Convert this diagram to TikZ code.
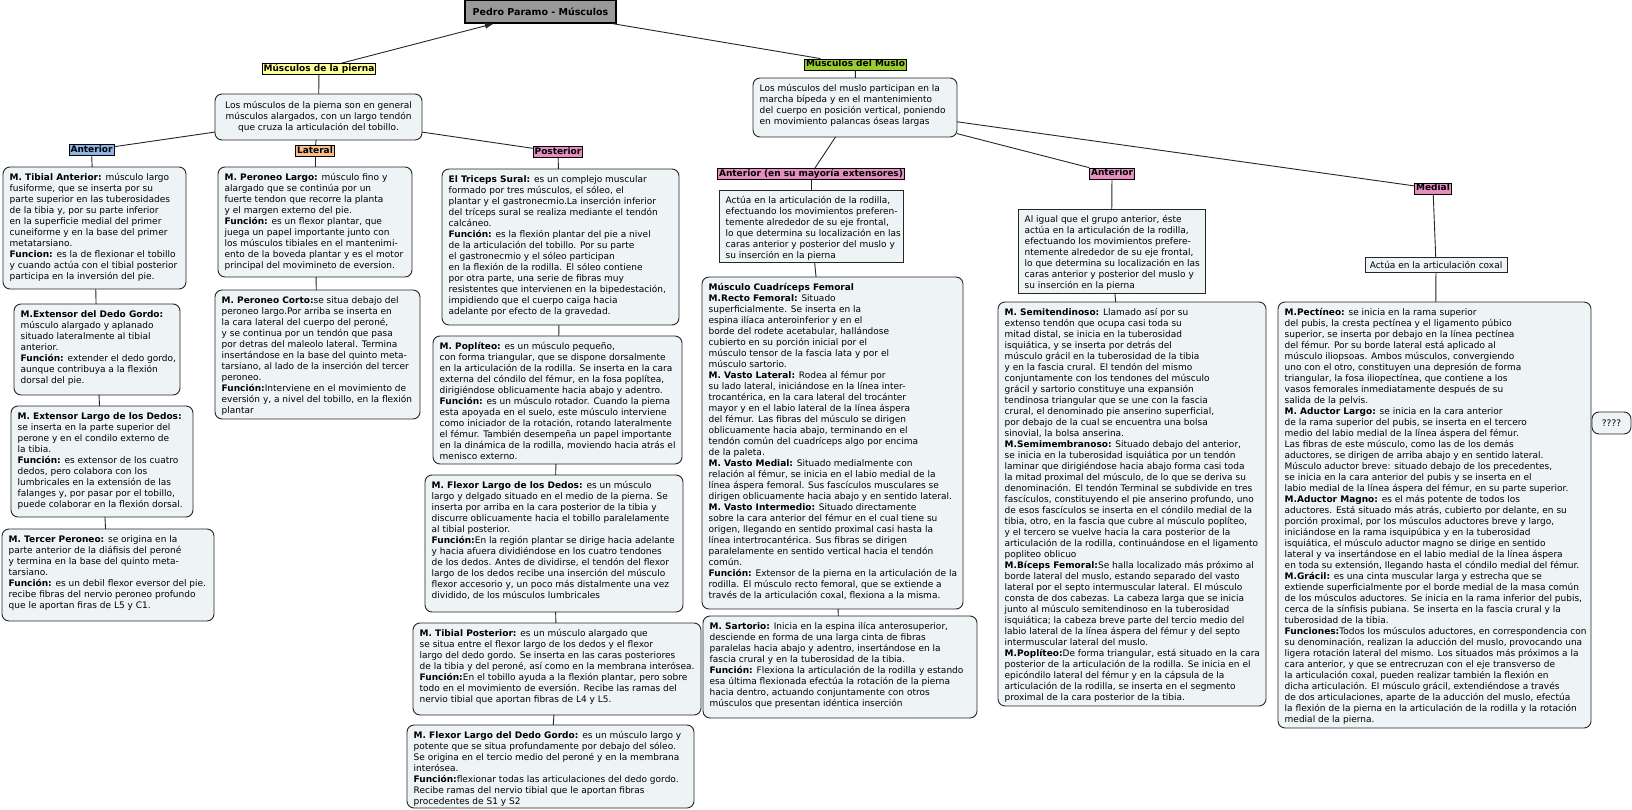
\documentclass[tikz,border=0pt]{standalone}
\usepackage{fontspec}
\setmainfont{DejaVu Sans}
\usetikzlibrary{arrows.meta}
\definecolor{boxfill}{HTML}{EEF3F5}
\definecolor{yel}{HTML}{FFFF99}
\definecolor{grn}{HTML}{99CC33}
\definecolor{blu}{HTML}{8DB4E2}
\definecolor{ora}{HTML}{F9BF8F}
\definecolor{pnk}{HTML}{E58FC0}
\definecolor{ttl}{HTML}{999999}
\tikzset{
  bx/.style={draw=black!85, line width=0.9pt, fill=boxfill, rounded corners=7pt, inner sep=0pt, outer sep=0pt, anchor=north west},
  sq/.style={draw=black!85, line width=0.9pt, fill=boxfill, inner sep=0pt, outer sep=0pt, anchor=north west},
  txt/.style={anchor=north west, inner sep=0pt, align=left, font=\fontsize{9}{11}\selectfont},
  lbl/.style={draw=black, line width=0.8pt, font=\fontsize{9}{10}\selectfont\bfseries, inner xsep=1.5pt, inner ysep=1pt, text height=7pt, text depth=2pt},
  conn/.style={draw=black!85, line width=0.9pt}
}
\newcommand\mybox[7]{%
  \node[#1, minimum width={#5-#3}, minimum height={#6-#4}] (#2) at (#3,#4) {};
  \node[txt] (#2t) at ([xshift=6.5pt,yshift=-6pt]#2.north west) {#7};}
\begin{document}
\begin{tikzpicture}[x=1pt,y=-1pt]
\fill[white] (0,0) rectangle (1632,810);
\useasboundingbox (0,0) rectangle (1632,810);

% title and main labels
\node[draw=black, line width=1.2pt, fill=ttl, minimum width=151, minimum height=23, inner sep=0pt, font=\fontsize{9.5}{11}\selectfont\bfseries] (title) at (540.5,11.5) {Pedro Paramo - Músculos};
\node[lbl, fill=yel] (legl) at (319,69) {Músculos de la pierna};
\node[lbl, fill=grn] (musl) at (855.5,64.5) {Musculos del Muslo};

% leg intro
\node[bx, minimum width=207, minimum height=46] (legi) at (215,94) {};
\node[inner sep=0pt, align=center, font=\fontsize{9}{11}\selectfont] (legit) at (legi.center) {Los músculos de la pierna son en general\\músculos alargados, con un largo tendón\\que cruza la articulación del tobillo.};

% muslo intro
\mybox{bx}{musi}{753}{78}{957}{137}{Los músculos del muslo participan en la\\marcha bípeda y en el mantenimiento\\del cuerpo en posición vertical, poniendo\\en movimiento palancas óseas largas}

% sub labels
\node[lbl, fill=blu] (antL) at (91.5,150) {Anterior};
\node[lbl, fill=ora] (latL) at (315,151) {Lateral};
\node[lbl, fill=pnk] (postL) at (558,152) {Posterior};
\node[lbl, fill=pnk] (antEL) at (811,174) {Anterior (en su mayoría extensores)};
\node[lbl, fill=pnk] (antPL) at (1112,173.5) {Anterior};
\node[lbl, fill=pnk] (medL) at (1433,188.5) {Medial};

% anterior leg column
\mybox{bx}{tibA}{3}{167}{186}{289}{\textbf{M. Tibial Anterior:} músculo largo\\fusiforme, que se inserta por su\\parte superior en las tuberosidades\\de la tibia y, por su parte inferior\\en la superficie medial del primer\\cuneiforme y en la base del primer\\metatarsiano.\\\textbf{Funcion:} es la de flexionar el tobillo\\y cuando actúa con el tibial posterior\\participa en la inversión del pie.}
\mybox{bx}{extDG}{14}{304}{180}{395}{\textbf{M.Extensor del Dedo Gordo:}\\músculo alargado y aplanado\\situado lateralmente al tibial\\anterior.\\\textbf{Función:} extender el dedo gordo,\\aunque contribuya a la flexión\\dorsal del pie.}
\mybox{bx}{extLD}{11}{406}{193}{517}{\textbf{M. Extensor Largo de los Dedos:}\\se inserta en la parte superior del\\perone y en el condilo externo de\\la tibia.\\\textbf{Función:} es extensor de los cuatro\\dedos, pero colabora con los\\lumbricales en la extensión de las\\falanges y, por pasar por el tobillo,\\puede colaborar en la flexión dorsal.}
\mybox{bx}{terP}{2}{529}{214}{621}{\textbf{M. Tercer Peroneo:} se origina en la\\parte anterior de la diáfisis del peroné\\y termina en la base del quinto meta-\\tarsiano.\\\textbf{Función:} es un debil flexor eversor del pie.\\recibe fibras del nervio peroneo profundo\\que le aportan firas de L5 y C1.}

% lateral column
\mybox{bx}{perL}{218}{167}{412}{277}{\textbf{M. Peroneo Largo:} músculo fino y\\alargado que se continúa por un\\fuerte tendon que recorre la planta\\y el margen externo del pie.\\\textbf{Función:} es un flexor plantar, que\\juega un papel importante junto con\\los músculos tibiales en el mantenimi-\\ento de la boveda plantar y es el motor\\principal del movimineto de eversion.}
\mybox{bx}{perC}{215}{290}{420}{419}{\textbf{M. Peroneo Corto:}se situa debajo del\\peroneo largo.Por arriba se inserta en\\la cara lateral del cuerpo del peroné,\\y se continua por un tendón que pasa\\por detras del maleolo lateral. Termina\\insertándose en la base del quinto meta-\\tarsiano, al lado de la inserción del tercer\\peroneo.\\\textbf{Función:}Interviene en el movimiento de\\eversión y, a nivel del tobillo, en la flexión\\plantar}

% posterior column
\mybox{bx}{tric}{442}{169}{679}{325}{\textbf{El Triceps Sural:} es un complejo muscular\\formado por tres músculos, el sóleo, el\\plantar y el gastronecmio.La inserción inferior\\del tríceps sural se realiza mediante el tendón\\calcáneo.\\\textbf{Función:} es la flexión plantar del pie a nivel\\de la articulación del tobillo. Por su parte\\el gastronecmio y el sóleo participan\\en la flexión de la rodilla. El sóleo contiene\\por otra parte, una serie de fibras muy\\resistentes que intervienen en la bipedestación,\\impidiendo que el cuerpo caiga hacia\\adelante por efecto de la gravedad.}
\mybox{bx}{popl}{433}{336}{682}{464}{\textbf{M. Poplíteo:} es un músculo pequeño,\\con forma triangular, que se dispone dorsalmente\\en la articulación de la rodilla. Se inserta en la cara\\externa del cóndilo del fémur, en la fosa poplítea,\\dirigiéndose oblicuamente hacia abajo y adentro.\\\textbf{Función:} es un músculo rotador. Cuando la pierna\\esta apoyada en el suelo, este músculo interviene\\como iniciador de la rotación, rotando lateralmente\\el fémur. También desempeña un papel importante\\en la dinámica de la rodilla, moviendo hacia atrás el\\menisco externo.}
\mybox{bx}{flxLD}{425}{475}{683}{612}{\textbf{M. Flexor Largo de los Dedos:} es un músculo\\largo y delgado situado en el medio de la pierna. Se\\inserta por arriba en la cara posterior de la tibia y\\discurre oblicuamente hacia el tobillo paralelamente\\al tibial posterior.\\\textbf{Función:}En la región plantar se dirige hacia adelante\\y hacia afuera dividiéndose en los cuatro tendones\\de los dedos. Antes de dividirse, el tendón del flexor\\largo de los dedos recibe una inserción del músculo\\flexor accesorio y, un poco más distalmente una vez\\dividido, de los músculos lumbricales}
\mybox{bx}{tibP}{413}{623}{701}{715}{\textbf{M. Tibial Posterior:} es un músculo alargado que\\se situa entre el flexor largo de los dedos y el flexor\\largo del dedo gordo. Se inserta en las caras posteriores\\de la tibia y del peroné, así como en la membrana interósea.\\\textbf{Función:}En el tobillo ayuda a la flexión plantar, pero sobre\\todo en el movimiento de eversión. Recibe las ramas del\\nervio tibial que aportan fibras de L4 y L5.}
\mybox{bx}{fdg}{407}{725}{694}{808}{\textbf{M. Flexor Largo del Dedo Gordo:} es un músculo largo y\\potente que se situa profundamente por debajo del sóleo.\\Se origina en el tercio medio del peroné y en la membrana\\interósea.\\\textbf{Función:}flexionar todas las articulaciones del dedo gordo.\\Recibe ramas del nervio tibial que le aportan fibras\\procedentes de S1 y S2}

% muslo anterior (extensores)
\mybox{sq}{act}{719}{190}{903}{262}{Actúa en la articulación de la rodilla,\\efectuando los movimientos preferen-\\temente alrededor de su eje frontal,\\lo que determina su localización en las\\caras anterior y posterior del muslo y\\su inserción en la pierna}
\mybox{bx}{cuad}{702}{277}{963}{609}{\textbf{Músculo Cuadríceps Femoral}\\\textbf{M.Recto Femoral:} Situado\\superficialmente. Se inserta en la\\espina ilíaca anteroinferior y en el\\borde del rodete acetabular, hallándose\\cubierto en su porción inicial por el\\músculo tensor de la fascia lata y por el\\músculo sartorio.\\\textbf{M. Vasto Lateral:} Rodea al fémur por\\su lado lateral, iniciándose en la línea inter-\\trocantérica, en la cara lateral del trocánter\\mayor y en el labio lateral de la línea áspera\\del fémur. Las fibras del músculo se dirigen\\oblicuamente hacia abajo, terminando en el\\tendón común del cuadríceps algo por encima\\de la paleta.\\\textbf{M. Vasto Medial:} Situado medialmente con\\relación al fémur, se inicia en el labio medial de la\\línea áspera femoral. Sus fascículos musculares se\\dirigen oblicuamente hacia abajo y en sentido lateral.\\\textbf{M. Vasto Intermedio:} Situado directamente\\sobre la cara anterior del fémur en el cual tiene su\\origen, llegando en sentido proximal casi hasta la\\línea intertrocantérica. Sus fibras se dirigen\\paralelamente en sentido vertical hacia el tendón\\común.\\\textbf{Función:} Extensor de la pierna en la articulación de la\\rodilla. El músculo recto femoral, que se extiende a\\través de la articulación coxal, flexiona a la misma.}
\mybox{bx}{sart}{703}{616}{977}{718}{\textbf{M. Sartorio:} Inicia en la espina ilíca anterosuperior,\\desciende en forma de una larga cinta de fibras\\paralelas hacia abajo y adentro, insertándose en la\\fascia crural y en la tuberosidad de la tibia.\\\textbf{Función:} Flexiona la articulación de la rodilla y estando\\esa última flexionada efectúa la rotación de la pierna\\hacia dentro, actuando conjuntamente con otros\\músculos que presentan idéntica inserción}

% muslo "Anterior" (posterior group)
\mybox{sq}{act2}{1018}{209}{1205}{293}{Al igual que el grupo anterior, éste\\actúa en la articulación de la rodilla,\\efectuando los movimientos prefere-\\ntemente alrededor de su eje frontal,\\lo que determina su localización en las\\caras anterior y posterior del muslo y\\su inserción en la pierna}
\mybox{bx}{semi}{998}{302}{1266}{706}{\textbf{M. Semitendinoso:} Llamado así por su\\extenso tendón que ocupa casi toda su\\mitad distal, se inicia en la tuberosidad\\isquiática, y se inserta por detrás del\\músculo grácil en la tuberosidad de la tibia\\y en la fascia crural. El tendón del mismo\\conjuntamente con los tendones del músculo\\grácil y sartorio constituye una expansión\\tendinosa triangular que se une con la fascia\\crural, el denominado pie anserino superficial,\\por debajo de la cual se encuentra una bolsa\\sinovial, la bolsa anserina.\\\textbf{M.Semimembranoso:} Situado debajo del anterior,\\se inicia en la tuberosidad isquiática por un tendón\\laminar que dirigiéndose hacia abajo forma casi toda\\la mitad proximal del músculo, de lo que se deriva su\\denominación. El tendón Terminal se subdivide en tres\\fascículos, constituyendo el pie anserino profundo, uno\\de esos fascículos se inserta en el cóndilo medial de la\\tibia, otro, en la fascia que cubre al músculo poplíteo,\\y el tercero se vuelve hacia la cara posterior de la\\articulación de la rodilla, continuándose en el ligamento\\popliteo oblicuo\\\textbf{M.Bíceps Femoral:}Se halla localizado más próximo al\\borde lateral del muslo, estando separado del vasto\\lateral por el septo intermuscular lateral. El músculo\\consta de dos cabezas. La cabeza larga que se inicia\\junto al músculo semitendinoso en la tuberosidad\\isquiática; la cabeza breve parte del tercio medio del\\labio lateral de la línea áspera del fémur y del septo\\intermuscular lateral del muslo.\\\textbf{M.Poplíteo:}De forma triangular, está situado en la cara\\posterior de la articulación de la rodilla. Se inicia en el\\epicóndilo lateral del fémur y en la cápsula de la\\articulación de la rodilla, se inserta en el segmento\\proximal de la cara posterior de la tibia.}

% medial
\node[sq, minimum width=142, minimum height=15, font=\fontsize{9}{11}\selectfont] (cox) at (1365,257) {Actúa en la articulación coxal};
\mybox{bx}{med}{1278}{302}{1591}{728}{\textbf{M.Pectíneo:} se inicia en la rama superior\\del pubis, la cresta pectínea y el ligamento púbico\\superior, se inserta por debajo en la línea pectínea\\del fémur. Por su borde lateral está aplicado al\\músculo iliopsoas. Ambos músculos, convergiendo\\uno con el otro, constituyen una depresión de forma\\triangular, la fosa iliopectínea, que contiene a los\\vasos femorales inmediatamente después de su\\salida de la pelvis.\\\textbf{M. Aductor Largo:} se inicia en la cara anterior\\de la rama superior del pubis, se inserta en el tercero\\medio del labio medial de la línea áspera del fémur.\\Las fibras de este músculo, como las de los demás\\aductores, se dirigen de arriba abajo y en sentido lateral.\\Músculo aductor breve: situado debajo de los precedentes,\\se inicia en la cara anterior del pubis y se inserta en el\\labio medial de la línea áspera del fémur, en su parte superior.\\\textbf{M.Aductor Magno:} es el más potente de todos los\\aductores. Está situado más atrás, cubierto por delante, en su\\porción proximal, por los músculos aductores breve y largo,\\iniciándose en la rama isquipúbica y en la tuberosidad\\isquiática, el músculo aductor magno se dirige en sentido\\lateral y va insertándose en el labio medial de la línea áspera\\en toda su extensión, llegando hasta el cóndilo medial del fémur.\\\textbf{M.Grácil:} es una cinta muscular larga y estrecha que se\\extiende superficialmente por el borde medial de la masa común\\de los músculos aductores. Se inicia en la rama inferior del pubis,\\cerca de la sínfisis pubiana. Se inserta en la fascia crural y la\\tuberosidad de la tibia.\\\textbf{Funciones:}Todos los músculos aductores, en correspondencia con\\su denominación, realizan la aducción del muslo, provocando una\\ligera rotación lateral del mismo. Los situados más próximos a la\\cara anterior, y que se entrecruzan con el eje transverso de\\la articulación coxal, pueden realizar también la flexión en\\dicha articulación. El músculo grácil, extendiéndose a través\\de dos articulaciones, aparte de la aducción del muslo, efectúa\\la flexión de la pierna en la articulación de la rodilla y la rotación\\medial de la pierna.}

\node[bx, minimum width=39, minimum height=22, font=\fontsize{9}{11}\selectfont] (qq) at (1592,412) {????};

% connectors
\draw[conn, -{Latex[length=9pt,width=6pt]}] (legl) -- (title);
\draw[conn] (title) -- (musl);
\draw[conn] (legl) -- (legi);
\draw[conn] (legi) -- (antL);
\draw[conn] (legi) -- (latL);
\draw[conn] (legi) -- (postL);
\draw[conn] (antL) -- (tibA);
\draw[conn] (tibA) -- (extDG);
\draw[conn] (extDG) -- (extLD);
\draw[conn] (extLD) -- (terP);
\draw[conn] (latL) -- (perL);
\draw[conn] (perL) -- (perC);
\draw[conn] (postL) -- (tric);
\draw[conn] (tric) -- (popl);
\draw[conn] (popl) -- (flxLD);
\draw[conn] (flxLD) -- (tibP);
\draw[conn] (tibP) -- (fdg);
\draw[conn] (musl) -- (musi);
\draw[conn] (musi) -- (antEL);
\draw[conn] (musi) -- (antPL);
\draw[conn] (musi) -- (medL);
\draw[conn] (antEL) -- (act);
\draw[conn] (act) -- (cuad);
\draw[conn] (cuad) -- (sart);
\draw[conn] (antPL) -- (act2);
\draw[conn] (act2) -- (semi);
\draw[conn] (medL) -- (cox);
\draw[conn] (cox) -- (med);
\end{tikzpicture}
\end{document}
